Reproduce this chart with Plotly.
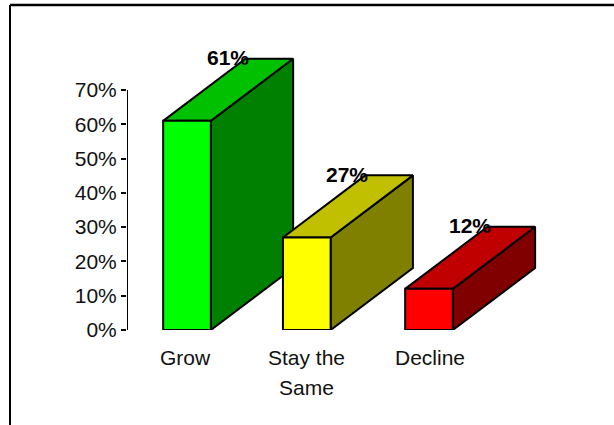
import plotly.graph_objects as go

category_lines = [["Grow"], ["Stay the", "Same"], ["Decline"]]
values = [61, 27, 12]
value_labels = ["61%", "27%", "12%"]
front_colors = ["#00FF00", "#FFFF00", "#FF0000"]
top_colors = ["#00C000", "#C0C000", "#C00000"]
side_colors = ["#008000", "#808000", "#800000"]
y_ticks = [0, 10, 20, 30, 40, 50, 60, 70]
y_tick_labels = ["0%", "10%", "20%", "30%", "40%", "50%", "60%", "70%"]

positions = [1.0, 1.99, 3.0]
label_positions = [0.99, 1.985, 3.01]
half_width = 0.197
depth_x = 0.68
depth_y = 18.1

W, H = 614, 425
left, right, top, bottom = 127, 560, 0, 330
unit_px = 121.0
x0 = 1 - (187 - left) / unit_px
x1 = 1 + (right - 187) / unit_px
y_scale = 240 / 70
y_max = (bottom - top) / y_scale
plot_w = right - left
frame_x = -117 / plot_w
frame_top = 325 / 330

fig = go.Figure()


def face(xs, ys, color):
    fig.add_trace(go.Scatter(
        x=xs + xs[:1], y=ys + ys[:1], mode="lines", fill="toself",
        fillcolor=color, line=dict(color="black", width=2),
        hoverinfo="skip", showlegend=False, cliponaxis=False,
    ))


for pos, val, fc, tc, sc in zip(positions, values, front_colors, top_colors, side_colors):
    a, b = pos - half_width, pos + half_width
    face([b, b + depth_x, b + depth_x, b], [0, depth_y, val + depth_y, val], sc)
    face([a, b, b + depth_x, a + depth_x], [val, val, val + depth_y, val + depth_y], tc)
    face([a, b, b, a], [0, 0, val, val], fc)

for pos, val, label in zip(positions, values, value_labels):
    fig.add_annotation(
        x=pos + 0.335, y=val + depth_y, yshift=1, text=f"<b>{label}</b>", showarrow=False,
        font=dict(family="Liberation Sans", size=21, color="black"),
        xanchor="center", yanchor="middle",
    )

# Category names are set line by line for their wide leading
for pos, lines in zip(label_positions, category_lines):
    for i, line in enumerate(lines):
        fig.add_annotation(
            x=pos, xref="x", y=0, yref="paper", yshift=-27 - 30 * i,
            text=line, showarrow=False, xanchor="center", yanchor="middle",
            font=dict(family="Liberation Sans", size=21, color="#111111"),
        )

fig.update_layout(
    width=W, height=H,
    margin=dict(l=left, r=W - right, t=top, b=H - bottom),
    paper_bgcolor="white", plot_bgcolor="white",
    font=dict(family="Liberation Sans", size=21, color="#111111"),
    xaxis=dict(
        range=[x0, x1], tickmode="array", tickvals=[], showticklabels=False,
        showgrid=False, zeroline=False, showline=False, ticks="",
    ),
    yaxis=dict(
        range=[0, y_max], tickmode="array", tickvals=y_ticks, ticktext=y_tick_labels,
        showgrid=False, zeroline=False, showline=False, ticks="outside",
        ticklen=5, tickwidth=2, tickcolor="black",
    ),
    shapes=[
        dict(type="line", xref="x", yref="y", x0=x0, x1=x0, y0=0, y1=70,
             line=dict(color="black", width=2)),
        dict(type="line", xref="paper", yref="paper", x0=frame_x, x1=(W - left) / plot_w,
             y0=frame_top, y1=frame_top, line=dict(color="black", width=2.5)),
        dict(type="line", xref="paper", yref="paper", x0=frame_x, x1=frame_x,
             y0=frame_top, y1=-95 / 330, line=dict(color="black", width=2)),
    ],
)

fig.write_html("out.html")
